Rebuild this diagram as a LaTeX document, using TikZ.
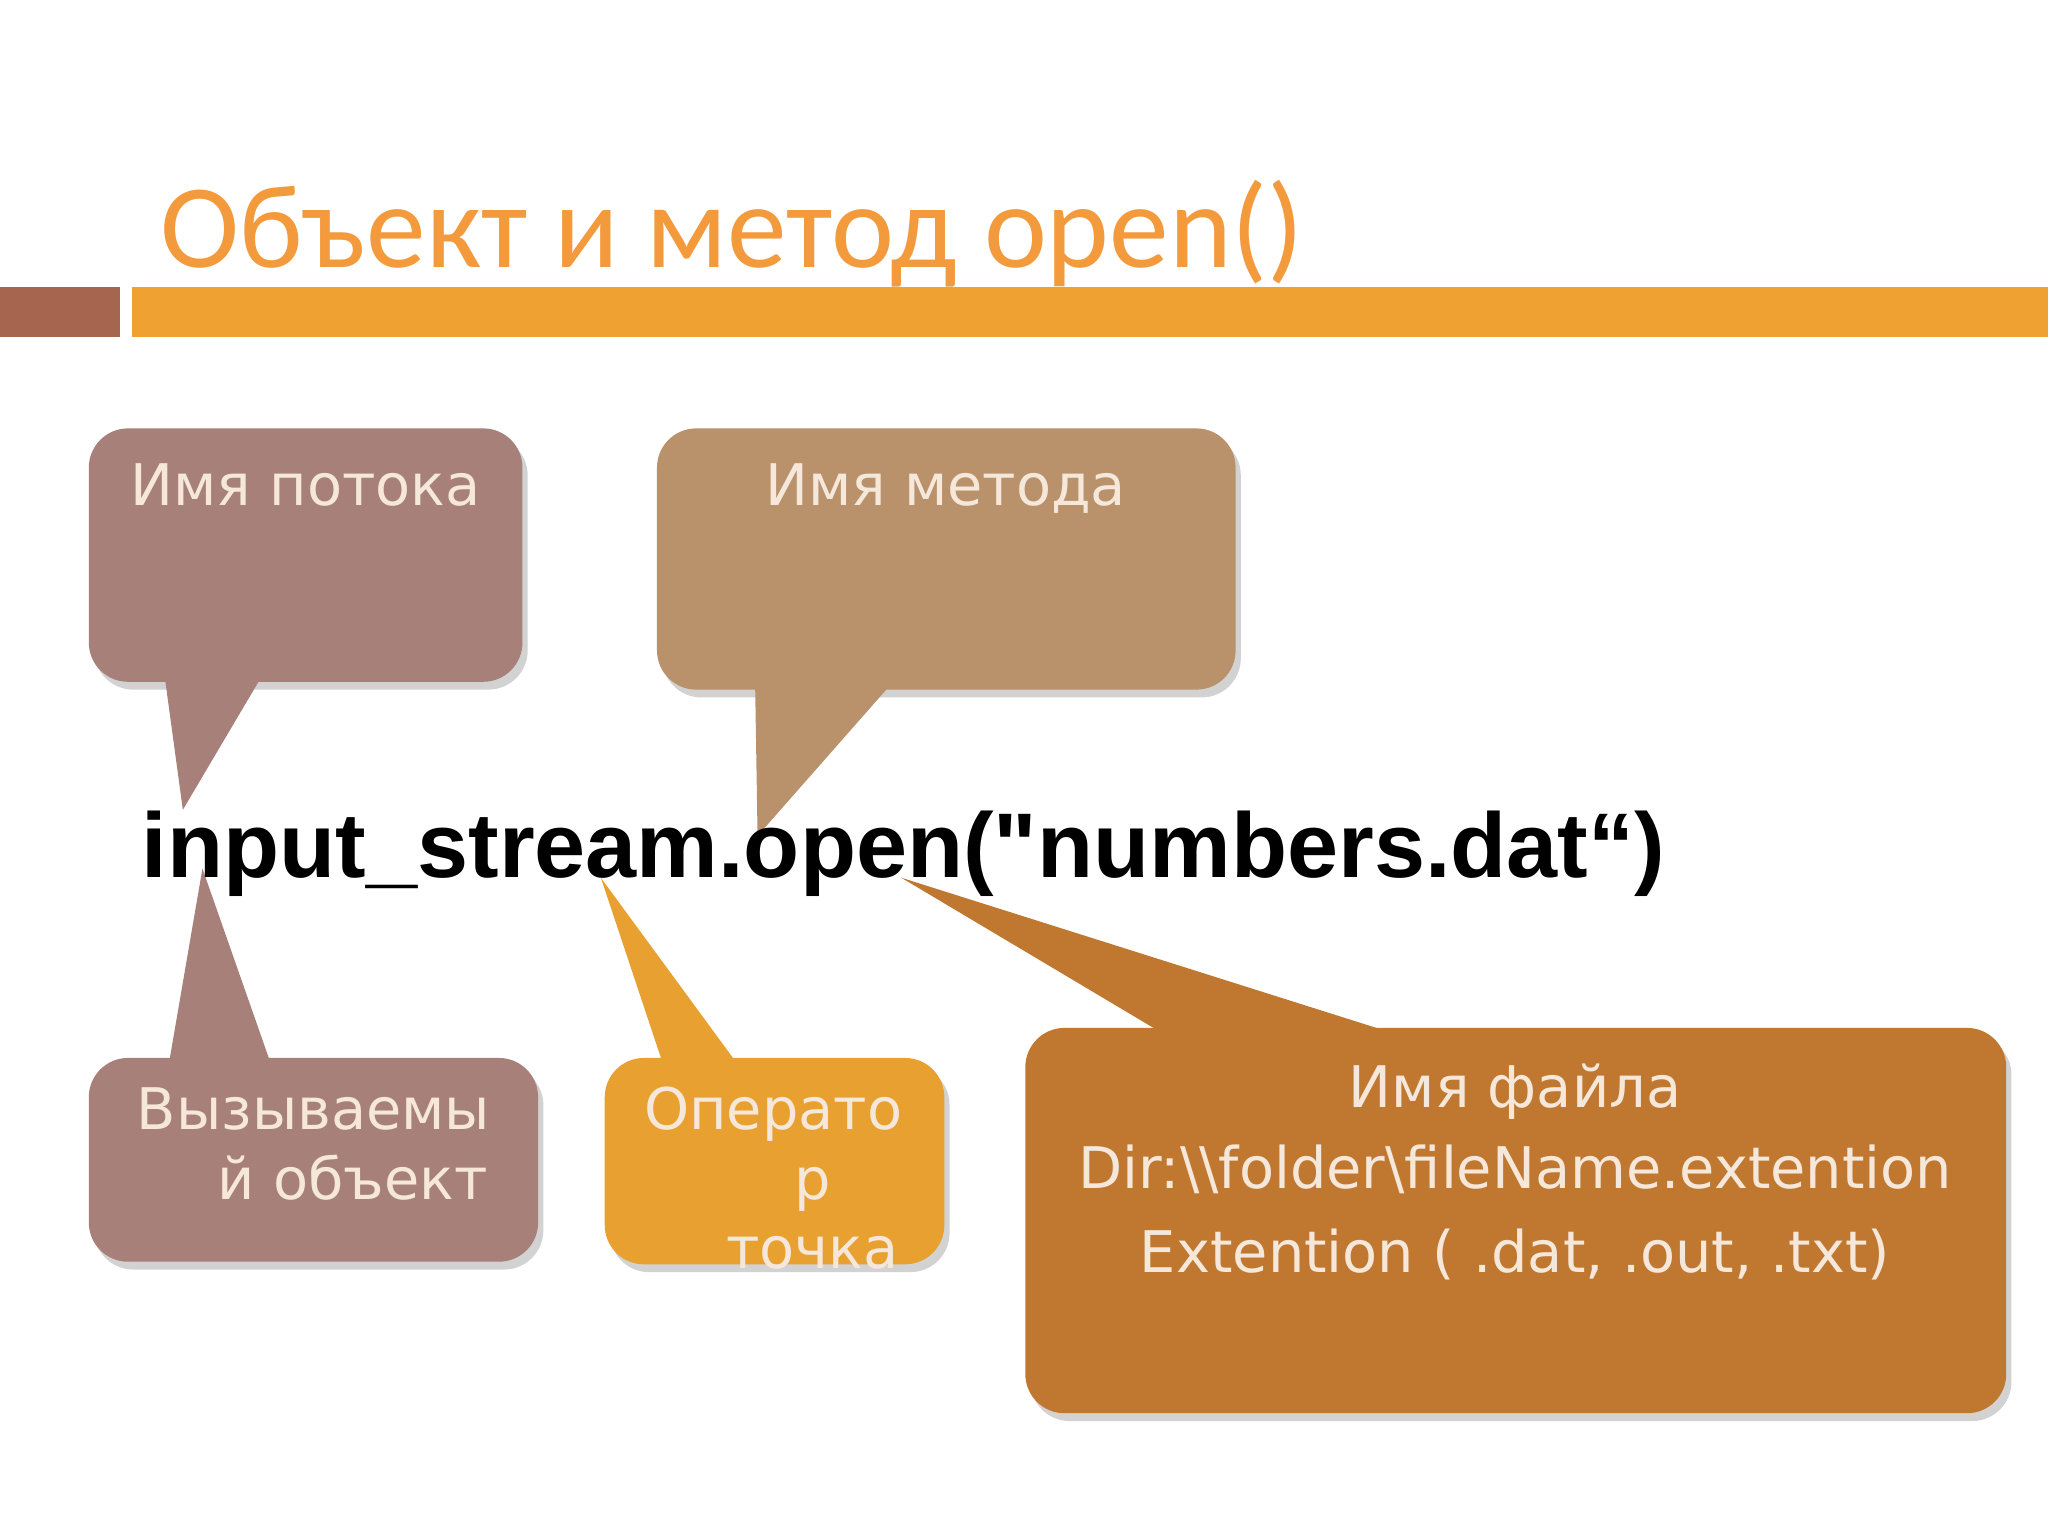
\documentclass[tikz,border=0pt]{standalone}
\usepackage{fontspec}
\setmainfont{Carlito}
\newfontfamily\codef{Liberation Sans}
\newfontfamily\lblf{DejaVu Sans}
\usetikzlibrary{shadows}
\definecolor{ttl}{HTML}{F29A3C}
\definecolor{barO}{HTML}{EFA232}
\definecolor{barB}{HTML}{A5654E}
\definecolor{mauve}{HTML}{A8807A}
\definecolor{tan}{HTML}{B9916B}
\definecolor{gold}{HTML}{E8A030}
\definecolor{rust}{HTML}{C07830}
\definecolor{lbl}{HTML}{F5E8DA}
\tikzset{
  box/.style={rounded corners=0.3cm, drop shadow={shadow xshift=0.04cm,shadow yshift=-0.06cm,opacity=0.35}},
  lab/.style={font=\lblf\fontsize{12.5}{15}\selectfont, text=lbl, inner sep=0pt, anchor=base}
}
\begin{document}
\begin{tikzpicture}[x=1cm,y=-1cm]
\useasboundingbox (0,0) rectangle (15.68,11.76);
\fill[white] (0,0) rectangle (15.68,11.76);
\node[font=\fontsize{26}{30}\selectfont, text=ttl, anchor=base west, inner sep=0pt] (title) at (1.22,2.05) {Объект и метод open()};
\fill[barB] (0,2.2) rectangle (0.92,2.58);
\fill[barO] (1.01,2.2) rectangle (15.68,2.58);
% callout 1
\fill[mauve, box] (0.68,3.28) rectangle (4.0,5.22);
\fill[mauve] (1.25,5.1) -- (2.05,5.1) -- (1.40,6.2) -- cycle;
\node[lab] (l1) at (2.34,3.87) {Имя потока};
% callout 2
\fill[tan, box] (5.03,3.28) rectangle (9.46,5.28);
\fill[tan] (5.78,5.15) -- (6.9,5.15) -- (5.8,6.4) -- cycle;
\node[lab] (l2) at (7.24,3.87) {Имя метода};
% callout 3
\fill[mauve, box] (0.68,8.1) rectangle (4.12,9.66);
\fill[mauve] (1.28,8.22) -- (2.1,8.22) -- (1.55,6.65) -- cycle;
\node[lab] (l3a) at (2.40,8.65) {Вызываемы};
\node[lab] (l3b) at (2.70,9.18) {й объект};
% callout 4
\fill[gold, box] (4.63,8.1) rectangle (7.23,9.68);
\fill[gold] (5.1,8.22) -- (5.7,8.22) -- (4.6,6.72) -- cycle;
\node[lab] (l4a) at (5.92,8.65) {Операто};
\node[lab] (l4b) at (6.22,9.18) {р};
\node[lab] (l4c) at (6.22,9.71) {точка};
% callout 5
\fill[rust, box] (7.85,7.87) rectangle (15.36,10.82);
\fill[rust] (9.05,8.0) -- (10.95,8.0) -- (6.9,6.72) -- cycle;
\node[lab] (l5a) at (11.6,8.48) {Имя файла};
\node[lab] (l5b) at (11.6,9.10) {Dir:\textbackslash\textbackslash folder\textbackslash fileName.extention};
\node[lab] (l5c) at (11.6,9.74) {Extention ( .dat, .out, .txt)};
% code
\node[font=\codef\bfseries\fontsize{20}{24}\selectfont, anchor=base west, inner sep=0pt] (code) at (1.08,6.72) {input\_stream.open("numbers.dat“)};
\end{tikzpicture}
\end{document}
